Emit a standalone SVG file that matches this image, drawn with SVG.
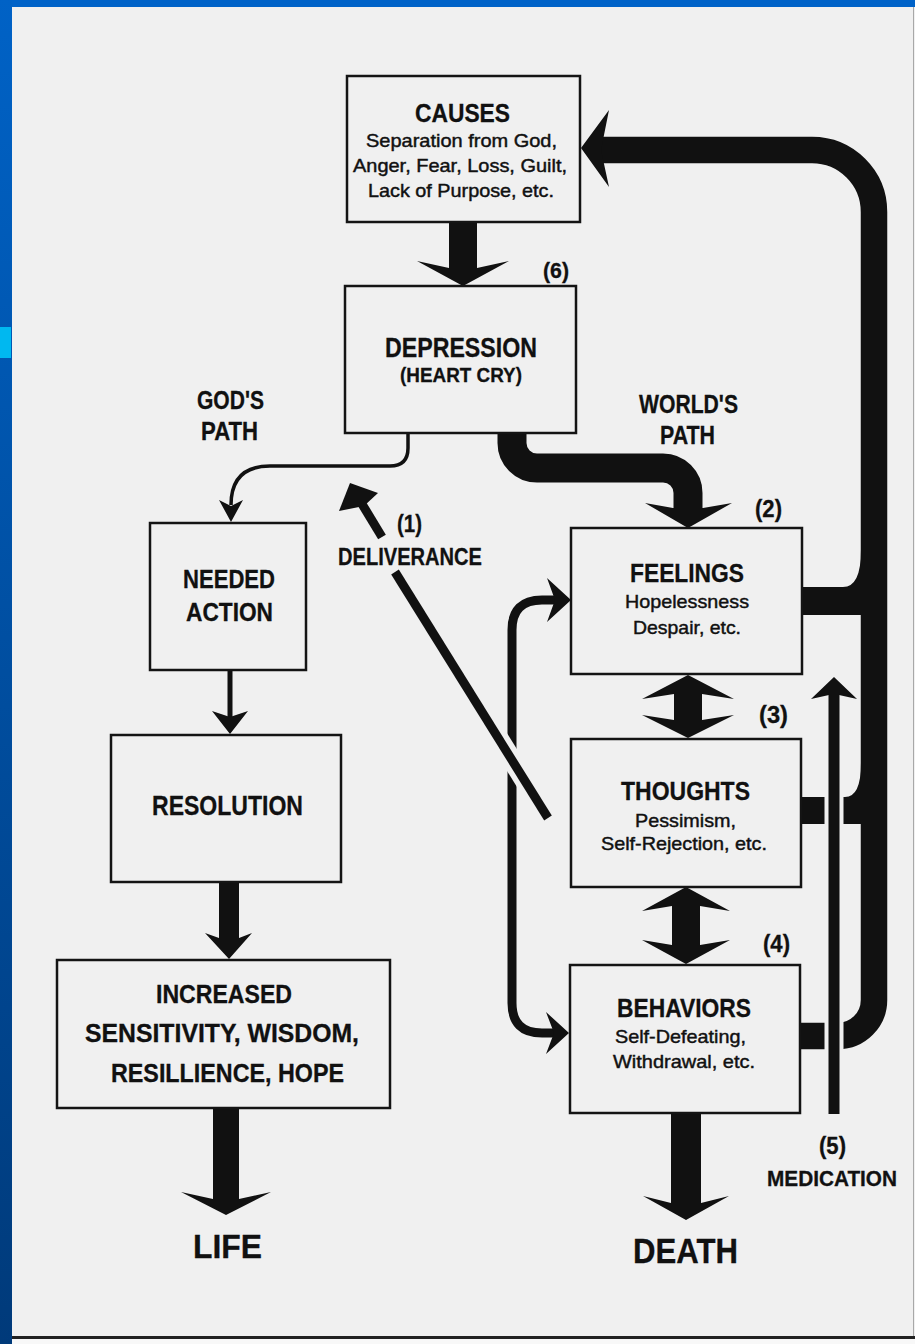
<svg xmlns="http://www.w3.org/2000/svg" width="915" height="1344" viewBox="0 0 915 1344">
<defs>
<linearGradient id="blueStrip" x1="0" y1="0" x2="0" y2="1">
<stop offset="0" stop-color="#0062C6"/>
<stop offset="1" stop-color="#003A7A"/>
</linearGradient>
<style>
.box{fill:none;stroke:#141414;stroke-width:2.5}
.h{font-family:"Liberation Sans",Arial,sans-serif;font-weight:bold;fill:#111;stroke:#111;stroke-width:0.3}
.b{font-family:"Liberation Sans",Arial,sans-serif;fill:#111;font-size:19px;stroke:#111;stroke-width:0.45}
.fill{fill:#111}
.line{fill:none;stroke:#111}
.halo{fill:none;stroke:#F0F0F0}
</style>
</defs>

<g id="page">
<rect width="915" height="1344" fill="#F0F0F0"/>
<rect x="0" y="0" width="915" height="7" fill="#0062C8"/>
<rect x="0" y="0" width="12" height="1344" fill="url(#blueStrip)"/>
<rect x="0" y="327" width="11" height="31" fill="#00B8F0"/>
<line x1="913.5" y1="7" x2="913.5" y2="1336" stroke="#A8A8A8" stroke-width="1"/>
<rect x="12" y="1336" width="903" height="3" fill="#222"/>
<rect x="12" y="1339" width="903" height="5" fill="#F8F8F8"/>
</g>

<g id="connectors">
<!-- causes to depression -->
<path class="fill" d="M449,222 H477 V268 L509,261 L463,286 L417,261 L449,268 Z"/>
<!-- god's path -->
<path class="line" stroke-width="3.5" d="M408,433 V448 Q408,466 390,466 H270 Q231,466 231,505"/>
<path class="fill" d="M231,522 L243,500 L231,506 L219,500 Z"/>
<!-- world's path -->
<path class="line" stroke-width="29" d="M512,433 V443 A25,25 0 0 0 537,468 H663 A25,25 0 0 1 688,493 V510"/>
<path class="fill" d="M688,528 L732,503 L703,508 L673,508 L645,503 Z"/>
<!-- feelings to behaviors side arrow -->
<path class="line" stroke-width="9" d="M558,600 H542 Q512,600 512,630 V1003 Q512,1033 542,1033 H557"/>
<path class="fill" d="M571,600 L547,578 L555,600 L547,622 Z"/>
<path class="fill" d="M569,1033 L546,1012 L554,1033 L546,1054 Z"/>
<!-- deliverance (1) -->
<line class="halo" stroke-width="20" x1="548" y1="818" x2="395" y2="572"/>
<line class="line" stroke-width="9" x1="548" y1="818" x2="395" y2="572"/>
<line class="line" stroke-width="9" x1="382" y1="537" x2="362" y2="504"/>
<path class="fill" d="M350,483 L378,493 L364,506 L339,511 Z"/>
<!-- feelings <-> thoughts (3) -->
<path class="fill" d="M688,675 L734,699 L702,694 V720 L734,715 L688,738 L642,715 L674,720 V694 L642,699 Z"/>
<!-- thoughts <-> behaviors (4) -->
<path class="fill" d="M686,887 L730,911 L700,906 V945 L730,940 L686,964 L642,940 L672,945 V906 L642,911 Z"/>
<!-- behaviors to death -->
<path class="fill" d="M671,1113 H701 V1203 L729,1196 L686,1220 L643,1196 L671,1203 Z"/>
<!-- needed action to resolution -->
<line class="line" stroke-width="5" x1="230" y1="670" x2="230" y2="718"/>
<path class="fill" d="M230,734 L248,711 L230,717 L212,711 Z"/>
<!-- resolution to increased -->
<path class="fill" d="M219,882 H239 V938 L252,933 L229,959 L205,933 L219,938 Z"/>
<!-- increased to life -->
<path class="fill" d="M213,1108 H239 V1199 L271,1192 L226,1215 L181,1192 L213,1199 Z"/>
<!-- loop (6) back to causes -->
<path class="line" stroke-width="26.5" d="M800,1036 H838 A36,36 0 0 0 874,1000 V212 A62,62 0 0 0 812,150 H600"/>
<path class="fill" d="M581,148 L609,110 L601,150 L609,187 Z"/>
<path class="fill" d="M802,587 H843 Q861,587 861,550 L868,550 L868,615 H802 Z"/>
<path class="fill" d="M801,797 H845 Q861,797 861,763 L868,763 L868,824 H801 Z"/>
<!-- medication (5) -->
<line class="halo" stroke-width="19" x1="834" y1="697" x2="834" y2="1114"/>
<line class="line" stroke-width="11" x1="834" y1="694" x2="834" y2="1114"/>
<path class="fill" d="M834,677 L857,699 L839,695 L829,695 L811,699 Z"/>
</g>

<g id="causes">
<rect class="box" x="347" y="76" width="233" height="146"/>
<text class="h" x="415" y="122" font-size="26" textLength="95" lengthAdjust="spacingAndGlyphs">CAUSES</text>
<text class="b" x="366" y="147" textLength="191" lengthAdjust="spacingAndGlyphs">Separation from God,</text>
<text class="b" x="353" y="172" textLength="214" lengthAdjust="spacingAndGlyphs">Anger, Fear, Loss, Guilt,</text>
<text class="b" x="368" y="197" textLength="186" lengthAdjust="spacingAndGlyphs">Lack of Purpose, etc.</text>
</g>

<g id="depression">
<rect class="box" x="345" y="286" width="231" height="147"/>
<text class="h" x="385" y="357" font-size="27" textLength="152" lengthAdjust="spacingAndGlyphs">DEPRESSION</text>
<text class="h" x="400" y="382" font-size="21" textLength="122" lengthAdjust="spacingAndGlyphs">(HEART CRY)</text>
</g>

<g id="gods-path">
<text class="h" x="197" y="409" font-size="25" textLength="67" lengthAdjust="spacingAndGlyphs">GOD'S</text>
<text class="h" x="201" y="440" font-size="25" textLength="57" lengthAdjust="spacingAndGlyphs">PATH</text>
</g>

<g id="worlds-path">
<text class="h" x="639" y="413" font-size="25" textLength="99" lengthAdjust="spacingAndGlyphs">WORLD'S</text>
<text class="h" x="660" y="444" font-size="25" textLength="55" lengthAdjust="spacingAndGlyphs">PATH</text>
</g>

<g id="deliverance">
<text class="h" x="397" y="532" font-size="24" textLength="25" lengthAdjust="spacingAndGlyphs">(1)</text>
<text class="h" x="338" y="565" font-size="24" textLength="144" lengthAdjust="spacingAndGlyphs">DELIVERANCE</text>
</g>

<g id="labels">
<text class="h" x="543" y="278" font-size="22" textLength="26" lengthAdjust="spacingAndGlyphs">(6)</text>
<text class="h" x="755" y="517" font-size="23" textLength="27" lengthAdjust="spacingAndGlyphs">(2)</text>
<text class="h" x="759" y="723" font-size="23" textLength="29" lengthAdjust="spacingAndGlyphs">(3)</text>
<text class="h" x="763" y="952" font-size="23" textLength="27" lengthAdjust="spacingAndGlyphs">(4)</text>
</g>

<g id="needed-action">
<rect class="box" x="150" y="523" width="156" height="147"/>
<text class="h" x="183" y="588" font-size="25" textLength="92" lengthAdjust="spacingAndGlyphs">NEEDED</text>
<text class="h" x="186" y="621" font-size="25" textLength="87" lengthAdjust="spacingAndGlyphs">ACTION</text>
</g>

<g id="resolution">
<rect class="box" x="111" y="735" width="230" height="147"/>
<text class="h" x="152" y="815" font-size="28" textLength="151" lengthAdjust="spacingAndGlyphs">RESOLUTION</text>
</g>

<g id="increased">
<rect class="box" x="57" y="960" width="333" height="148"/>
<text class="h" x="156" y="1003" font-size="25" textLength="136" lengthAdjust="spacingAndGlyphs">INCREASED</text>
<text class="h" x="85" y="1042" font-size="25" textLength="274" lengthAdjust="spacingAndGlyphs">SENSITIVITY, WISDOM,</text>
<text class="h" x="111" y="1082" font-size="25" textLength="233" lengthAdjust="spacingAndGlyphs">RESILLIENCE, HOPE</text>
</g>

<g id="feelings">
<rect class="box" x="571" y="528" width="231" height="146"/>
<text class="h" x="630" y="582" font-size="26" textLength="114" lengthAdjust="spacingAndGlyphs">FEELINGS</text>
<text class="b" x="625" y="608" textLength="124" lengthAdjust="spacingAndGlyphs">Hopelessness</text>
<text class="b" x="633" y="634" textLength="108" lengthAdjust="spacingAndGlyphs">Despair, etc.</text>
</g>

<g id="thoughts">
<rect class="box" x="571" y="739" width="230" height="148"/>
<text class="h" x="621" y="800" font-size="26" textLength="129" lengthAdjust="spacingAndGlyphs">THOUGHTS</text>
<text class="b" x="635" y="827" textLength="101" lengthAdjust="spacingAndGlyphs">Pessimism,</text>
<text class="b" x="601" y="850" textLength="166" lengthAdjust="spacingAndGlyphs">Self-Rejection, etc.</text>
</g>

<g id="behaviors">
<rect class="box" x="570" y="965" width="230" height="148"/>
<text class="h" x="617" y="1017" font-size="26" textLength="134" lengthAdjust="spacingAndGlyphs">BEHAVIORS</text>
<text class="b" x="615" y="1043" textLength="131" lengthAdjust="spacingAndGlyphs">Self-Defeating,</text>
<text class="b" x="613" y="1068" textLength="142" lengthAdjust="spacingAndGlyphs">Withdrawal, etc.</text>
</g>

<g id="medication">
<text class="h" x="819" y="1154" font-size="23" textLength="27" lengthAdjust="spacingAndGlyphs">(5)</text>
<text class="h" x="767" y="1186" font-size="22" textLength="130" lengthAdjust="spacingAndGlyphs">MEDICATION</text>
</g>

<g id="life">
<text class="h" x="193" y="1258" font-size="33" textLength="69" lengthAdjust="spacingAndGlyphs">LIFE</text>
</g>

<g id="death">
<text class="h" x="633" y="1263" font-size="35" textLength="105" lengthAdjust="spacingAndGlyphs">DEATH</text>
</g>
</svg>
